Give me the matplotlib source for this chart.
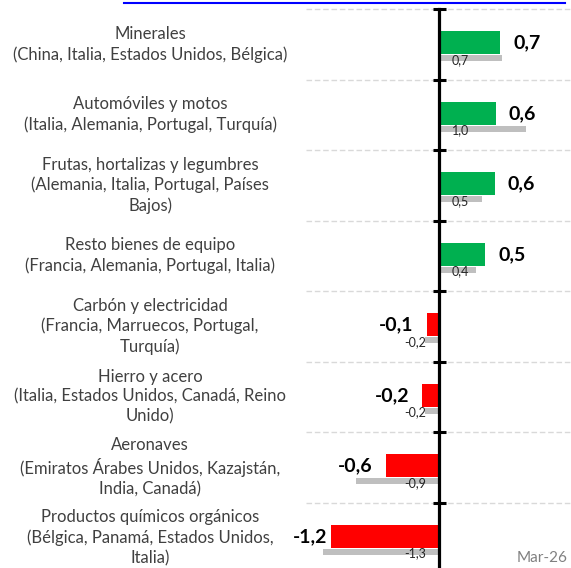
import matplotlib
matplotlib.use('Agg')
import matplotlib.pyplot as plt
import matplotlib.transforms as mtransforms
from matplotlib.lines import Line2D

# datos: variación de la contribución (pp), mes actual y anterior
categorias = [
    'Minerales\n(China, Italia, Estados Unidos, Bélgica)',
    'Automóviles y motos\n(Italia, Alemania, Portugal, Turquía)',
    'Frutas, hortalizas y legumbres\n(Alemania, Italia, Portugal, Países\nBajos)',
    'Resto bienes de equipo\n(Francia, Alemania, Portugal, Italia)',
    'Carbón y electricidad\n(Francia, Marruecos, Portugal,\nTurquía)',
    'Hierro y acero\n(Italia, Estados Unidos, Canadá, Reino\nUnido)',
    'Aeronaves\n(Emiratos Árabes Unidos, Kazajstán,\nIndia, Canadá)',
    'Productos químicos orgánicos\n(Bélgica, Panamá, Estados Unidos,\nItalia)',
]
actual = [0.69, 0.64, 0.63, 0.52, -0.14, -0.19, -0.60, -1.22]
anterior = [0.71, 0.98, 0.48, 0.42, -0.16, -0.16, -0.94, -1.31]
fecha = 'Mar-26'

VERDE = '#00b050'
ROJO = '#ff0000'
GRIS = '#bfbfbf'

plt.rcParams['font.family'] = ['Lato', 'DejaVu Sans']

W, H = 571, 568
fig = plt.figure(figsize=(W / 100, H / 100), dpi=100)

def px2pt(p):
    return p * 72 / 100

# area del grafico en pixeles (izq, arriba, der, abajo)
left, top, right, bottom = 306, 9, 572, 573
ax = fig.add_axes([left / W, (H - bottom) / H, (right - left) / W, (bottom - top) / H])
n = len(categorias)
ax.set_xlim(-1.5, 1.5)
ax.set_ylim(n, 0)

yc = [i + 0.5 for i in range(n)]
y_bar = [y - 0.02 for y in yc]
y_prev = [y + 0.2 for y in yc]

colores = [VERDE if v >= 0 else ROJO for v in actual]
ax.barh(y_prev, anterior, height=0.085, color=GRIS, zorder=2)
ax.barh(y_bar, actual, height=0.33, color=colores, zorder=3)

# separadores
ax.hlines(range(0, n + 1), -1.5, 1.5, colors='#d9d9d9', linewidth=1,
          linestyles=(0, (4, 2)), zorder=1, clip_on=False)

# eje cero
for s in ['top', 'right', 'bottom']:
    ax.spines[s].set_visible(False)
ax.spines['left'].set_position(('data', 0))
ax.spines['left'].set_linewidth(2.3)
ax.spines['left'].set_zorder(5)
ax.set_xticks([])
ax.set_yticks(range(0, n + 1))
ax.tick_params(axis='y', direction='inout', length=px2pt(13), width=2.2,
               labelleft=False)

def fmt(v):
    return f'{v:.1f}'.replace('.', ',')

for i, v in enumerate(actual):
    if v >= 0:
        off, ha = 13, 'left'
    else:
        off, ha = (-4 if v < -1 else -13), 'right'
    ax.annotate(fmt(v), (v, y_bar[i]), xytext=(px2pt(off), 0),
                textcoords='offset points', ha=ha, va='center',
                fontsize=14, fontweight='bold', color='black',
                annotation_clip=False, zorder=6)

for i, v in enumerate(anterior):
    if v >= 0:
        off, ha = 13, 'left'
    else:
        off, ha = -13, 'right'
    ax.annotate(fmt(v), (0, y_prev[i] + 0.02), xytext=(px2pt(off), 0),
                textcoords='offset points', ha=ha, va='center',
                fontsize=9, color='#262626', zorder=6)

# etiquetas de categoria
trans = mtransforms.blended_transform_factory(fig.transFigure, ax.transData)
for i, c in enumerate(categorias):
    ax.text(150 / W, yc[i], c, transform=trans, ha='center', va='center',
            fontsize=12, color='#404040', linespacing=1.3, clip_on=False)

fig.text(567 / W, 1 - 562 / H, fecha, ha='right', va='baseline',
         fontsize=11, color='#808080')

# resto del titulo recortado (subrayado del enlace)
fig.add_artist(Line2D([124 / W, 565 / W], [1 - 3 / H, 1 - 3 / H],
                      transform=fig.transFigure, color='#0000ff', linewidth=1.5))

fig.savefig('out.png', dpi=100)
